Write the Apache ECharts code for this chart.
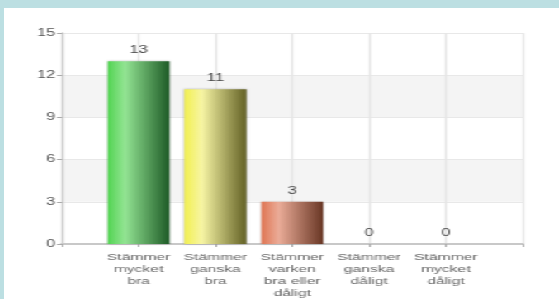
<!DOCTYPE html>
<html>
<head>
<meta charset="utf-8">
<script src="https://cdn.jsdelivr.net/npm/echarts@6/dist/echarts.min.js"></script>
<style>
  html, body { margin: 0; padding: 0; background: #bcdfe2; width: 559px; height: 299px; overflow: hidden; }
  /* the source picture is stretched sideways, so the chart is drawn narrow and widened */
  #chart { position: absolute; left: 4px; top: 8px; width: 336px; height: 291px; background: #fff;
           transform-origin: 0 0; transform: scaleX(1.6518); }
</style>
</head>
<body>
<div id="chart"></div>
<script>
const categories = ['Stämmer\nmycket\nbra', 'Stämmer\nganska\nbra', 'Stämmer\nvarken\nbra eller\ndåligt', 'Stämmer\nganska\ndåligt', 'Stämmer\nmycket\ndåligt'];
const values = [13, 11, 3, 0, 0];
const yTicks = [0, 3, 6, 9, 12, 15];

// left, highlight, right colour of each bar gradient
const barColors = [
  ['#52d452', '#93e493', '#1d5a26'],
  ['#f2f04e', '#f7f5a4', '#626024'],
  ['#df7452', '#ebac98', '#683624'],
  ['#999999', '#cccccc', '#555555'],
  ['#999999', '#cccccc', '#555555']
];

function grad(c) {
  return new echarts.graphic.LinearGradient(0, 0, 1, 0, [
    { offset: 0, color: c[0] },
    { offset: 0.28, color: c[1] },
    { offset: 1, color: c[2] }
  ]);
}

const chart = echarts.init(document.getElementById('chart'));
const axisGray = '#c8c8c8';
const font = 'Liberation Sans, Arial, sans-serif';

chart.setOption({
  animation: false,
  backgroundColor: '#fff',
  grid: { left: 35, right: 22, top: 25, bottom: 54 },
  xAxis: {
    type: 'category',
    boundaryGap: false,
    data: [''].concat(categories, ['']),
    axisLine: { lineStyle: { color: axisGray, width: 2 } },
    axisTick: { show: true, length: 3, lineStyle: { color: '#aaa' } },
    axisLabel: { interval: 0, color: '#666', fontSize: 9.5, lineHeight: 12, fontFamily: font, margin: 7 },
    splitLine: { show: true, lineStyle: { color: '#e6e6e6', width: 1.3 } }
  },
  yAxis: {
    type: 'value',
    min: yTicks[0],
    max: yTicks[yTicks.length - 1],
    interval: yTicks[1] - yTicks[0],
    axisLine: { show: true, lineStyle: { color: axisGray, width: 1.3 } },
    axisTick: { show: true, length: 3, lineStyle: { color: '#aaa' } },
    axisLabel: { color: '#555', fontSize: 10, fontFamily: font, margin: 4 },
    splitLine: { lineStyle: { color: '#e8e8e8', width: 1 } },
    splitArea: { show: true, areaStyle: { color: ['#ffffff', '#f4f4f4'] } }
  },
  series: [{
    type: 'bar',
    barWidth: 37.5,
    data: [null].concat(values.map((v, i) => ({
      value: v,
      itemStyle: { color: grad(barColors[i]), shadowBlur: 2, shadowColor: 'rgba(0,0,0,0.25)' }
    })), [null]),
    label: { show: true, position: 'top', distance: 6, color: '#444', fontSize: 10, fontFamily: font }
  }]
});
</script>
</body>
</html>
